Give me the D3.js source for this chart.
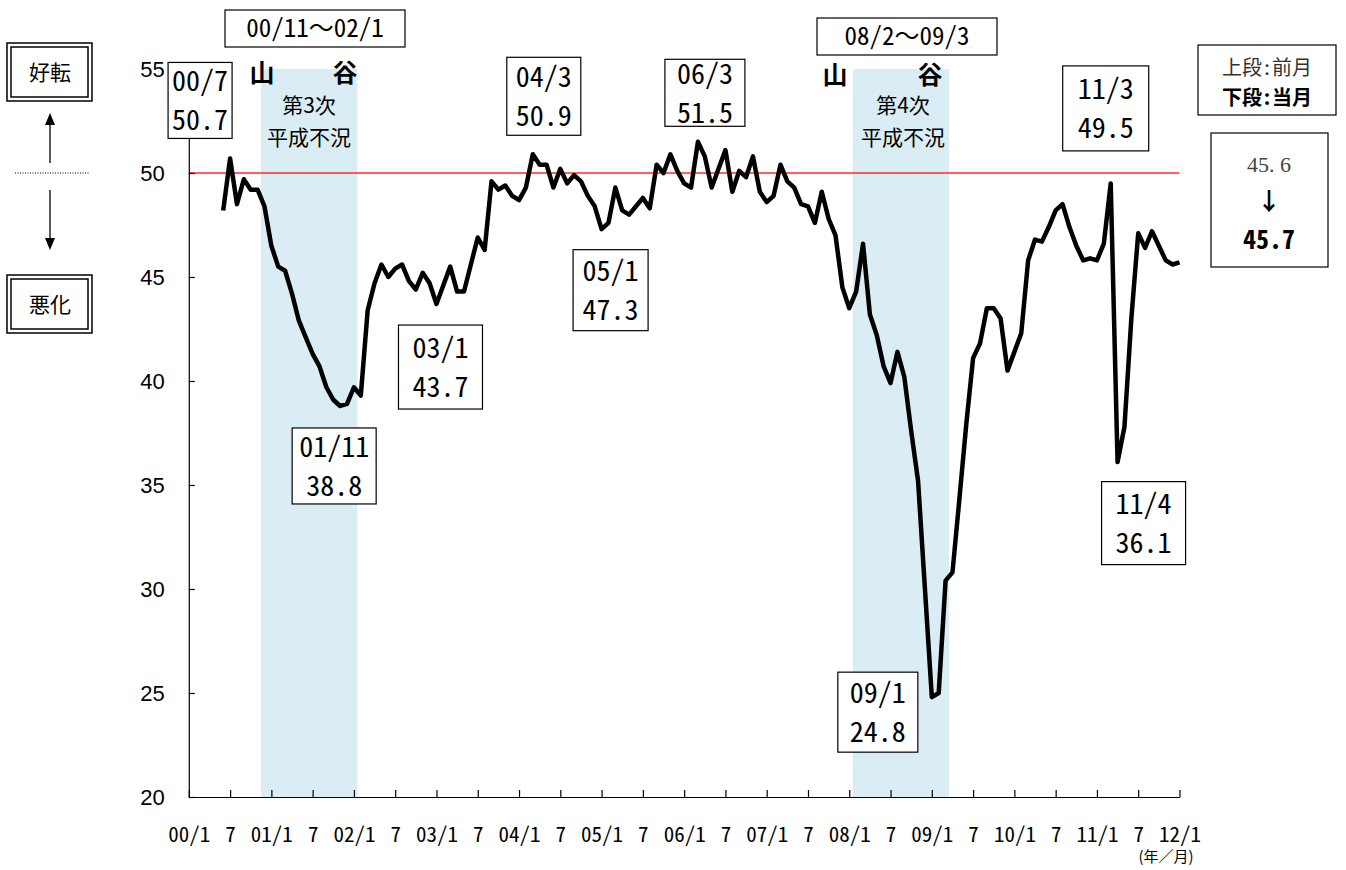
<!DOCTYPE html>
<html>
<head>
<meta charset="utf-8">
<script src="https://cdn.jsdelivr.net/npm/d3@7"></script>
<style>
  body { margin: 0; background: #fff; }
  svg { display: block; font-family: "Noto Sans CJK JP", sans-serif; }
  .hw { font-feature-settings: "hwid" 1; }
</style>
</head>
<body>
<svg id="chart" width="1346" height="870"></svg>
<script>
// monthly DI, first value is 2000/6
const firstMonth = "00/6";
const diValues = [
  48.2, 50.7, 48.5, 49.7, 49.2, 49.2, 48.4, 46.5, 45.5, 45.3,
  44.2, 42.9, 42.1, 41.3, 40.7, 39.7, 39.1, 38.8, 38.9, 39.7,
  39.3, 43.4, 44.7, 45.6, 45.0, 45.4, 45.6, 44.8, 44.4, 45.2,
  44.7, 43.7, 44.6, 45.5, 44.3, 44.3, 45.6, 46.9, 46.3, 49.6,
  49.2, 49.4, 48.9, 48.7, 49.3, 50.9, 50.4, 50.4, 49.3, 50.2,
  49.5, 49.9, 49.6, 48.9, 48.4, 47.3, 47.6, 49.3, 48.2, 48.0,
  48.4, 48.8, 48.3, 50.4, 50.0, 50.9, 50.1, 49.5, 49.3, 51.5,
  50.8, 49.3, 50.2, 51.1, 49.1, 50.1, 49.8, 50.8, 49.1, 48.6,
  48.9, 50.4, 49.6, 49.3, 48.5, 48.4, 47.6, 49.1, 47.8, 47.0,
  44.5, 43.5, 44.3, 46.6, 43.2, 42.2, 40.7, 39.9, 41.4, 40.2,
  37.6, 35.2, 30.0, 24.8, 25.0, 30.4, 30.8, 34.3, 37.9, 41.1,
  41.8, 43.5, 43.5, 43.0, 40.5, 41.4, 42.3, 45.8, 46.8, 46.7,
  47.4, 48.2, 48.5, 47.4, 46.5, 45.8, 45.9, 45.8, 46.6, 49.5,
  36.1, 37.8, 43.0, 47.1, 46.4, 47.2, 46.5, 45.8, 45.6, 45.7
];
const yTicks = [20, 25, 30, 35, 40, 45, 50, 55];
const axisStart = "00/1";
const axisEnd = "12/1";
const baseLine = 50;

// shaded recessions and their peak-trough captions
const recessionShade = [["00/12", "02/1"], ["08/2", "09/3"]];
const recessionTitles = [["00/11", "02/1"], ["08/2", "09/3"]];
const recessionNames = [["第3次", "平成不況"], ["第4次", "平成不況"]];

// highlighted months
const calloutMonths = ["00/7", "01/11", "03/1", "04/3", "05/1", "06/3", "09/1", "11/3", "11/4"];
const prevValue = 45.6;
const lastValue = 45.7;

const toIndex = (s) => {
  const [yy, mm] = s.split("/").map(Number);
  return yy * 12 + mm - 1;
};
const start = toIndex(firstMonth);
const series = diValues.map((v, i) => ({ m: start + i, v }));
const valueAt = (s) => series.find((d) => d.m === toIndex(s)).v;

const svg = d3.select("#chart");
const x = d3.scaleLinear().domain([toIndex(axisStart), toIndex(axisEnd)]).range([188.8, 1179.5]);
const y = d3.scaleLinear().domain([20, 55]).range([797, 69]);

// recession bands
svg.append("g").selectAll("rect")
  .data(recessionShade)
  .join("rect")
  .attr("x", (d) => x(toIndex(d[0]) - 0.5))
  .attr("width", (d) => x(toIndex(d[1]) + 0.5) - x(toIndex(d[0]) - 0.5))
  .attr("y", y(55))
  .attr("height", y(20) - y(55))
  .attr("fill", "#daedf4");

// 50 line
svg.append("line")
  .attr("x1", x.range()[0]).attr("x2", x.range()[1])
  .attr("y1", y(baseLine)).attr("y2", y(baseLine))
  .attr("stroke", "#ff2a2a").attr("stroke-width", 1.3);

// axes
const yAxis = svg.append("g")
  .attr("transform", `translate(${x.range()[0]},0)`)
  .call(d3.axisLeft(y).tickValues(yTicks).tickSizeInner(-6).tickSizeOuter(0).tickPadding(24));
yAxis.selectAll("text")
  .attr("font-family", "'Liberation Sans', Arial, sans-serif")
  .attr("font-size", 22).attr("fill", "#000");

const halfYears = d3.range(toIndex(axisStart), toIndex(axisEnd) + 1, 6);
const xAxis = svg.append("g")
  .attr("transform", `translate(0,${y(20)})`)
  .call(d3.axisBottom(x).tickValues(halfYears).tickSizeInner(-7).tickSizeOuter(0).tickPadding(30)
    .tickFormat((m) => m % 12 === 0 ? `${d3.format("02d")(m / 12)}/1` : "7"));
xAxis.selectAll("text")
  .attr("class", "hw")
  .attr("font-family", "'Noto Sans CJK JP', sans-serif")
  .attr("font-size", 21).attr("fill", "#000");
svg.selectAll(".domain, .tick line").attr("stroke", "#000").attr("stroke-width", 1.2);

svg.append("text")
  .attr("x", 1166).attr("y", 862)
  .attr("text-anchor", "middle").attr("font-size", 15)
  .text("(年／月)");

// DI line
svg.append("path")
  .datum(series)
  .attr("fill", "none")
  .attr("stroke", "#000")
  .attr("stroke-width", 4.5)
  .attr("stroke-linejoin", "round")
  .attr("d", d3.line().x((d) => x(d.m)).y((d) => y(d.v)));

// callout boxes: offset of box centre from point, box size
const calloutLayout = [
  { dx: -30, dy: -58, w: 64, h: 76 },
  { dx: -6, dy: 60, w: 84, h: 76 },
  { dx: 4, dy: 63, w: 84, h: 84 },
  { dx: 11, dy: -58, w: 74, h: 78 },
  { dx: 9, dy: 61, w: 75, h: 81 },
  { dx: 7, dy: -49, w: 80, h: 67 },
  { dx: -54, dy: 15, w: 80, h: 80 },
  { dx: -5, dy: -75, w: 86, h: 85 },
  { dx: 26, dy: 61, w: 84, h: 83 }
];
const callout = svg.append("g").selectAll("g")
  .data(calloutMonths.map((s, i) => ({ s, v: valueAt(s), ...calloutLayout[i] })))
  .join("g")
  .attr("transform", (d) => `translate(${x(toIndex(d.s)) + d.dx},${y(d.v) + d.dy})`);
callout.append("rect")
  .attr("x", (d) => -d.w / 2).attr("y", (d) => -d.h / 2)
  .attr("width", (d) => d.w).attr("height", (d) => d.h)
  .attr("fill", "#fff").attr("stroke", "#000").attr("stroke-width", 1.2);
callout.append("text").attr("class", "hw")
  .attr("text-anchor", "middle").attr("y", -9).attr("font-size", 28)
  .text((d) => d.s);
callout.append("text").attr("class", "hw")
  .attr("text-anchor", "middle").attr("y", 30).attr("font-size", 28)
  .text((d) => d3.format(".1f")(d.v));

// recession captions
const capLayout = [
  { bx: 225, by: 10, cx: 309, mtn: 262, vly: 345, ty: 82 },
  { bx: 817, by: 18, cx: 903, mtn: 835, vly: 930, ty: 84 }
];
recessionTitles.forEach((t, i) => {
  const c = capLayout[i];
  svg.append("rect").attr("x", c.bx).attr("y", c.by).attr("width", 180).attr("height", 37)
    .attr("fill", "#fff").attr("stroke", "#000").attr("stroke-width", 1.2);
  const title = svg.append("text").attr("x", c.bx + 90).attr("y", c.by + 27)
    .attr("text-anchor", "middle").attr("font-size", 25);
  title.append("tspan").attr("class", "hw").text(t[0]);
  title.append("tspan").text("～");
  title.append("tspan").attr("class", "hw").text(t[1]);
  svg.append("text").attr("x", c.mtn).attr("y", c.ty)
    .attr("text-anchor", "middle").attr("font-size", 25).attr("font-weight", 700).text("山");
  svg.append("text").attr("x", c.vly).attr("y", c.ty)
    .attr("text-anchor", "middle").attr("font-size", 25).attr("font-weight", 700).text("谷");
  recessionNames[i].forEach((n, j) => {
    svg.append("text").attr("x", c.cx).attr("y", 113 + j * 32)
      .attr("text-anchor", "middle").attr("font-size", 21).text(n);
  });
});

// left guide: 好転 / 悪化
const guide = svg.append("g");
[["好転", 43], ["悪化", 275]].forEach(([t, top]) => {
  guide.append("rect").attr("x", 7).attr("y", top).attr("width", 85).attr("height", 58)
    .attr("fill", "none").attr("stroke", "#000").attr("stroke-width", 1.5);
  guide.append("rect").attr("x", 11).attr("y", top + 4).attr("width", 77).attr("height", 50)
    .attr("fill", "none").attr("stroke", "#000").attr("stroke-width", 1.5);
  guide.append("text").attr("x", 50).attr("y", top + 37).attr("text-anchor", "middle")
    .attr("font-size", 21).text(t);
});
guide.append("line").attr("x1", 50).attr("x2", 50).attr("y1", 163).attr("y2", 124)
  .attr("stroke", "#000").attr("stroke-width", 1.3);
guide.append("path").attr("d", "M50,113 L45,125 L55,125 Z").attr("fill", "#000");
guide.append("line").attr("x1", 50).attr("x2", 50).attr("y1", 190).attr("y2", 239)
  .attr("stroke", "#000").attr("stroke-width", 1.3);
guide.append("path").attr("d", "M50,250 L45,238 L55,238 Z").attr("fill", "#000");
guide.append("line").attr("x1", 15).attr("x2", 90).attr("y1", 173).attr("y2", 173)
  .attr("stroke", "#000").attr("stroke-width", 1).attr("stroke-dasharray", "1,1.5");

// right legend
svg.append("rect").attr("x", 1198).attr("y", 45).attr("width", 138).attr("height", 70)
  .attr("fill", "#fff").attr("stroke", "#000").attr("stroke-width", 1.2);
svg.append("text").attr("class", "hw").attr("x", 1267).attr("y", 75).attr("text-anchor", "middle")
  .attr("font-size", 20).attr("fill", "#333").text("上段:前月");
svg.append("text").attr("class", "hw").attr("x", 1267).attr("y", 105).attr("text-anchor", "middle")
  .attr("font-size", 20).attr("font-weight", 700).text("下段:当月");

svg.append("rect").attr("x", 1211).attr("y", 133).attr("width", 117).attr("height", 134)
  .attr("fill", "#fff").attr("stroke", "#000").attr("stroke-width", 1.2);
svg.append("text").attr("x", 1269).attr("y", 172).attr("text-anchor", "middle")
  .attr("font-family", "'Liberation Serif', serif").attr("font-size", 22).attr("fill", "#444")
  .text(d3.format(".1f")(prevValue).replace(".", ". "));
svg.append("text").attr("x", 1269).attr("y", 210).attr("text-anchor", "middle")
  .attr("font-size", 24).attr("font-weight", 700).text("↓");
svg.append("text").attr("class", "hw").attr("x", 1269).attr("y", 249).attr("text-anchor", "middle")
  .attr("font-size", 26).attr("font-weight", 700).text(d3.format(".1f")(lastValue));
</script>
</body>
</html>
